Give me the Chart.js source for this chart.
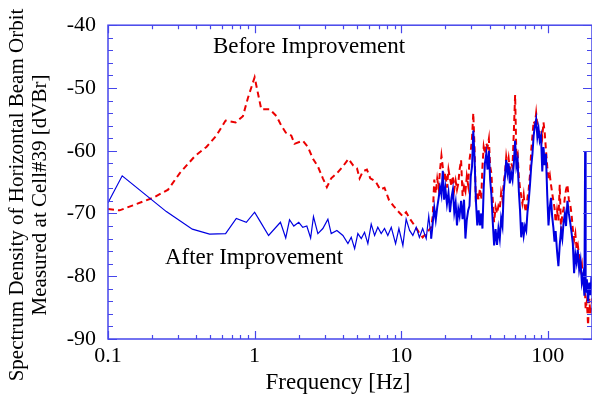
<!DOCTYPE html>
<html>
<head>
<meta charset="utf-8">
<script src="https://cdn.jsdelivr.net/npm/chart.js@4.4.1/dist/chart.umd.min.js"></script>
<style>
  html, body { margin: 0; padding: 0; background: #ffffff; }
  #chart { display: block; }
</style>
</head>
<body>
<canvas id="chart" width="592" height="398"></canvas>
<script>
'use strict';

// Low band (0.1 - 16 Hz), before improvement: frequency [Hz], level [dVBr]
const lowBeforeFreq = [
  0.1, 0.12, 0.148, 0.203, 0.257, 0.308, 0.39, 0.469, 0.548, 0.634,
  0.742, 0.832, 0.9, 1.0, 1.11, 1.27, 1.41, 1.52, 1.63, 1.78,
  1.87, 2.13, 2.31, 2.5, 2.7, 2.92, 3.11, 3.33, 3.64, 4.0,
  4.37, 4.68, 4.99, 5.2, 5.47, 5.83, 6.15, 6.68, 7.19, 7.69,
  8.23, 8.85, 9.48, 10.2, 10.8, 11.5, 12.3, 13.2, 14.0, 15.0
];
const lowBeforeDb = [
  -69.3, -69.5, -68.7, -67.5, -66.2, -63.6, -60.9, -59.4, -57.6, -55.2,
  -55.5, -54.5, -51.6, -48.3, -53.4, -53.4, -54.5, -56.0, -57.1, -57.6,
  -58.9, -58.4, -59.4, -61.3, -62.5, -64.4, -65.8, -64.4, -63.6, -62.5,
  -61.3, -62.3, -62.8, -64.4, -63.3, -63.0, -64.4, -64.9, -66.2, -65.9,
  -67.8, -68.8, -69.6, -70.4, -69.8, -70.9, -71.9, -73.0, -73.8, -73.0
];

// Low band, after improvement
const lowAfterFreq = [
  0.1, 0.125, 0.25, 0.376, 0.493, 0.634, 0.75, 0.878, 1.0, 1.08,
  1.245, 1.5, 1.63, 1.73, 1.85, 2.0, 2.13, 2.27, 2.41, 2.52,
  2.7, 2.92, 3.16, 3.33, 3.64, 4.0, 4.33, 4.56, 4.81, 5.06,
  5.34, 5.62, 5.92, 6.24, 6.58, 6.92, 7.3, 7.69, 8.1, 8.55,
  9.15, 9.64, 10.26, 10.8, 11.4, 12.0, 12.65, 13.3, 14.0, 14.8,
  15.4
];
const lowAfterDb = [
  -68.3, -64.0, -69.7, -72.5, -73.3, -73.2, -70.8, -71.4, -69.8, -71.1,
  -73.5, -71.4, -73.9, -71.0, -72.0, -71.4, -72.2, -72.0, -73.9, -70.5,
  -73.2, -72.4, -70.9, -73.2, -72.7, -73.5, -74.8, -73.8, -75.6, -73.2,
  -74.0, -73.0, -74.8, -71.7, -73.5, -72.2, -73.2, -72.4, -73.5, -72.2,
  -74.8, -72.4, -75.1, -70.9, -72.7, -73.5, -72.2, -73.8, -72.4, -74.0,
  -70.4
];

// High band (16 - 200 Hz), shared frequencies
const highFreq = [
  16, 16.4, 16.8, 17.2, 17.6, 18, 18.4, 18.8, 19.2, 19.6,
  20, 20.5, 21, 21.5, 22, 22.5, 23, 23.5, 24, 24.5,
  25, 25.6, 26.2, 26.8, 27.4, 28, 28.6, 29.2, 29.8, 30.4,
  31, 31.6, 32.3, 33, 33.7, 34.4, 35.1, 35.8, 36.5, 37.2,
  38, 38.8, 39.6, 40.4, 41.2, 42, 43, 44, 45, 46,
  47, 48, 49, 50, 51, 52, 53, 54, 55, 56.2,
  57.4, 58.6, 59.8, 61, 62.2, 63.4, 64.6, 65.8, 67, 68.4,
  69.8, 71.2, 72.6, 74, 75.5, 77, 78.5, 80, 81.6, 83.2,
  84.8, 86.4, 88, 89.8, 91.6, 93.4, 95.2, 97, 99, 101,
  103, 105, 107, 109, 111, 113, 115.5, 118, 120.5, 123,
  125.5, 128, 130.5, 133, 136, 139, 142, 145, 148, 151,
  154, 157, 160, 163.5, 167, 170.5, 174, 177.5, 179.5, 181,
  184.5, 188, 191.5, 195, 198.5, 200
];
const highBeforeDb = [
  -72.2, -70.4, -64.6, -66.8, -64.5, -66.0, -63.0, -60.8, -62.6, -64.8,
  -63.5, -65.9, -63.0, -64.4, -65.7, -64.0, -66.2, -64.8, -66.2, -65.2,
  -63.0, -61.5, -67.2, -65.7, -66.5, -64.1, -65.5, -61.5, -60.0, -57.9,
  -54.0, -59.4, -68.3, -66.5, -67.8, -66.0, -67.8, -62.5, -59.4, -60.5,
  -58.8, -59.4, -58.1, -62.5, -63.6, -67.5, -71.4, -69.0, -70.0, -68.8,
  -69.3, -66.7, -67.8, -65.0, -63.6, -61.0, -62.5, -61.2, -63.0, -62.0,
  -62.6, -57.0, -51.1, -61.0, -60.5, -64.2, -66.0, -67.2, -68.4, -67.0,
  -69.1, -69.8, -67.5, -66.2, -63.9, -60.0, -57.6, -55.3, -55.8, -54.0,
  -56.0, -57.1, -56.8, -56.6, -57.8, -55.5, -57.2, -59.8, -62.5, -64.4,
  -63.8, -65.4, -66.7, -68.0, -69.1, -71.4, -69.5, -71.1, -65.4, -72.7,
  -70.0, -69.3, -67.5, -66.2, -65.4, -67.8, -68.5, -70.1, -72.5, -74.3,
  -73.2, -75.6, -75.0, -76.9, -78.9, -78.0, -80.8, -82.1, -83.0, -85.2,
  -84.0, -87.8, -83.6, -86.0, -84.7, -83.5
];
const highAfterDb = [
  -74.0, -71.5, -69.1, -71.0, -69.0, -67.5, -65.8, -67.0, -63.2, -67.8,
  -66.0, -68.5, -66.7, -69.8, -67.5, -66.2, -69.8, -68.3, -71.9, -69.3,
  -70.4, -68.0, -70.9, -67.8, -74.0, -71.0, -69.5, -68.8, -64.1, -62.5,
  -56.8, -61.0, -68.0, -71.9, -69.5, -71.9, -70.0, -72.4, -66.0, -62.0,
  -60.5, -63.0, -60.0, -64.6, -67.0, -71.0, -75.1, -72.5, -75.0, -72.4,
  -74.0, -70.8, -72.0, -66.5, -64.1, -61.5, -63.5, -62.0, -65.2, -63.5,
  -64.6, -62.0, -58.4, -62.5, -61.5, -66.5, -69.5, -73.8, -71.4, -73.5,
  -72.0, -72.7, -69.8, -68.0, -65.5, -62.5, -60.5, -57.6, -56.0, -55.0,
  -57.8, -56.5, -58.4, -57.6, -63.3, -59.4, -62.3, -60.5, -67.0, -71.9,
  -69.1, -67.5, -70.5, -72.2, -74.5, -72.8, -76.0, -78.4, -75.0, -72.7,
  -74.0, -71.4, -70.1, -72.0, -68.0, -70.0, -71.4, -73.0, -74.8, -79.5,
  -76.5, -77.8, -75.8, -78.9, -77.5, -81.0, -79.8, -83.1, -60.2, -82.6,
  -80.5, -84.2, -81.0, -83.0, -80.0, -81.5
];

// Axes
const xTickValues = [0.1, 1, 10, 100];
const xTickLabels = ['0.1', '1', '10', '100'];
const yTickValues = [-90, -80, -70, -60, -50, -40];
const yTickLabels = ['-90', '-80', '-70', '-60', '-50', '-40'];

const AXIS_COLOR = 'rgb(70, 70, 235)';
const SERIF = '"Liberation Serif", "DejaVu Serif", serif';

const zip = (xs, ys) => xs.map((v, i) => ({ x: v, y: ys[i] }));

// Frame with inward ticks on all four sides, plus the text labels
const frame = {
  id: 'frame',
  afterDatasetsDraw(chart) {
    const { ctx, chartArea: a, scales: { x, y } } = chart;
    ctx.save();
    ctx.strokeStyle = AXIS_COLOR;
    ctx.lineWidth = 1.5;
    ctx.strokeRect(a.left, a.top, a.right - a.left, a.bottom - a.top);

    ctx.lineWidth = 1.2;
    ctx.beginPath();
    // x ticks (major + minor per decade)
    xTickValues.forEach((d) => {
      for (let k = 1; k <= 9; k++) {
        const v = d * k;
        if (v > x.max) break;
        const px = Math.round(x.getPixelForValue(v)) + 0.5;
        const len = k === 1 ? 8 : 4;
        ctx.moveTo(px, a.bottom); ctx.lineTo(px, a.bottom - len);
        ctx.moveTo(px, a.top); ctx.lineTo(px, a.top + len);
      }
    });
    // y ticks every 2, major every 10
    for (let v = y.min; v <= y.max; v += 2) {
      const py = Math.round(y.getPixelForValue(v)) + 0.5;
      const len = v % 10 === 0 ? 9 : 5;
      ctx.moveTo(a.left, py); ctx.lineTo(a.left + len, py);
      ctx.moveTo(a.right, py); ctx.lineTo(a.right - len, py);
    }
    ctx.stroke();

    // Text
    ctx.fillStyle = '#000';
    ctx.textAlign = 'center';
    ctx.textBaseline = 'middle';
    ctx.font = '23px ' + SERIF;
    ctx.fillText('Before Improvement', 309, 47);
    ctx.fillText('After Improvement', 254, 258);
    ctx.fillText('Frequency [Hz]', 338, 383);

    ctx.translate(0, 195);
    ctx.rotate(-Math.PI / 2);
    ctx.font = '21px ' + SERIF;
    ctx.fillText('Spectrum Density of Horizontal Beam Orbit', 0, 17);
    ctx.fillText('Measured at Cell#39 [dVBr]', 0, 40);
    ctx.restore();
  },
};

const configuration = {
  type: 'line',
  data: {
    datasets: [
      {
        label: 'After Improvement',
        data: zip(lowAfterFreq.concat(highFreq), lowAfterDb.concat(highAfterDb)),
        borderColor: 'rgb(0, 0, 225)',
        borderWidth: 1.2,
        // the dense part of the spectrum reads as a heavier trace
        segment: {
          borderWidth: (c) => (c.p0.parsed.x >= 16 ? 2 : 1.2),
        },
        pointRadius: 0,
        tension: 0,
        fill: false,
      },
      {
        label: 'Before Improvement',
        data: zip(lowBeforeFreq.concat(highFreq), lowBeforeDb.concat(highBeforeDb)),
        borderColor: 'rgb(235, 0, 0)',
        borderWidth: 2,
        borderDash: [6, 4],
        pointRadius: 0,
        tension: 0,
        fill: false,
      },
    ],
  },
  options: {
    responsive: false,
    animation: false,
    events: [],
    layout: { padding: { top: 19, left: 0, right: 0, bottom: 0 } },
    plugins: {
      legend: { display: false },
      tooltip: { enabled: false },
    },
    scales: {
      x: {
        type: 'logarithmic',
        min: 0.1,
        max: 200,
        grid: { display: false, drawTicks: false },
        border: { display: false },
        afterBuildTicks: (scale) => {
          scale.ticks = xTickValues.map((v) => ({ value: v }));
        },
        afterFit: (scale) => { scale.height = 59; },
        ticks: {
          autoSkip: false,
          maxRotation: 0,
          padding: 4,
          color: '#000',
          font: { family: SERIF, size: 22 },
          callback: (value, i) => xTickLabels[i],
        },
      },
      y: {
        min: -90,
        max: -40,
        grid: { display: false, drawTicks: false },
        border: { display: false },
        afterBuildTicks: (scale) => {
          scale.ticks = yTickValues.map((v) => ({ value: v }));
        },
        afterFit: (scale) => { scale.width = 108; },
        ticks: {
          padding: 12,
          color: '#000',
          font: { family: SERIF, size: 22 },
          callback: (value, i) => yTickLabels[i],
        },
      },
    },
  },
  plugins: [frame],
};

new Chart(document.getElementById('chart'), configuration);
</script>
</body>
</html>
